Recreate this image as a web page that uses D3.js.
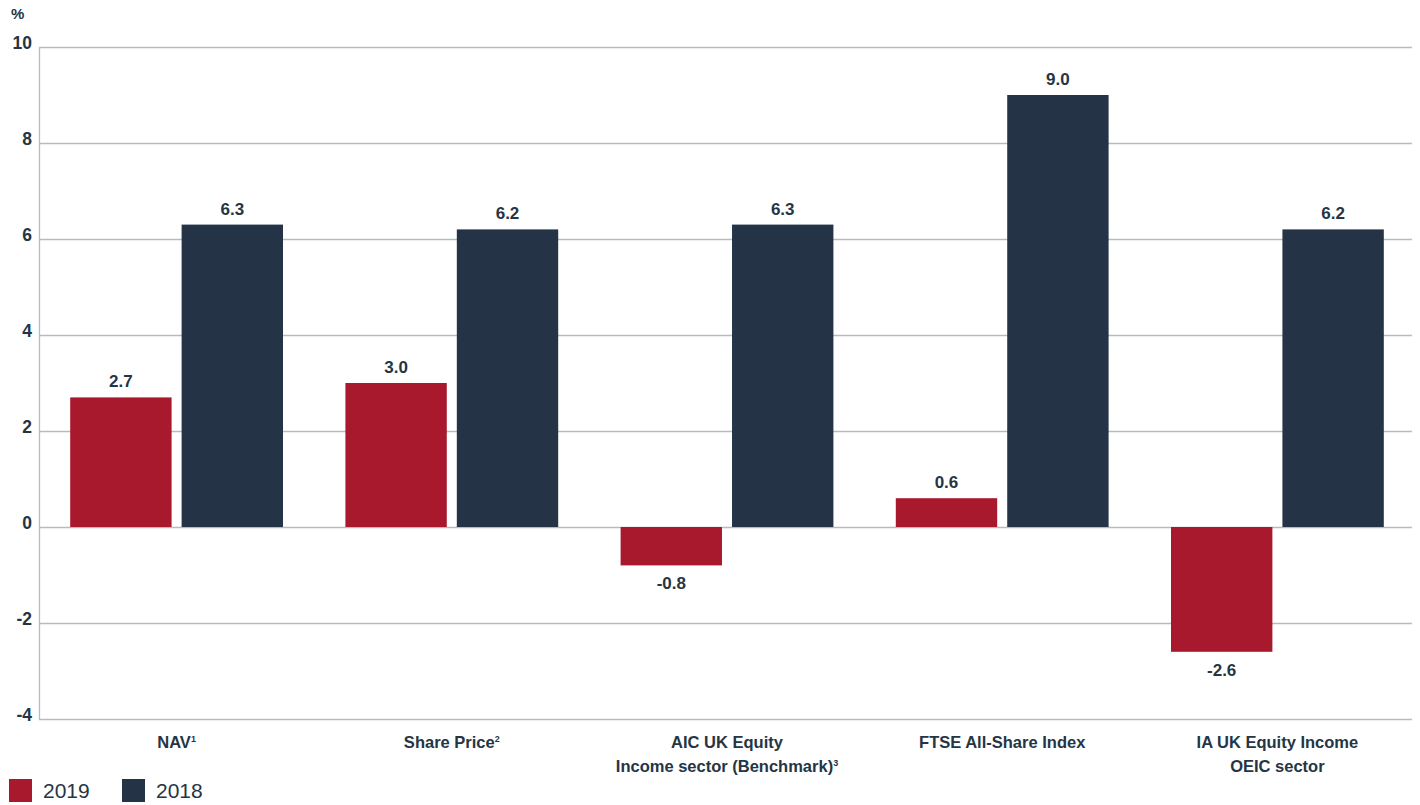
<!DOCTYPE html>
<html>
<head>
<meta charset="utf-8">
<script src="https://cdn.jsdelivr.net/npm/d3@7/dist/d3.min.js"></script>
<style>
  body { margin: 0; background: #fff; }
  svg text { font-family: "Liberation Sans", Arial, sans-serif; fill: #253545; }
</style>
</head>
<body>
<div id="chart"></div>
<script>
var categories = [
  ["NAV", "1"],
  ["Share Price", "2"],
  ["AIC UK Equity", "Income sector (Benchmark)", "3"],
  ["FTSE All-Share Index", ""],
  ["IA UK Equity Income", "OEIC sector", ""]
];
var series = ["2019", "2018"];
var values2019 = [2.7, 3.0, -0.8, 0.6, -2.6];
var values2018 = [6.3, 6.2, 6.3, 9.0, 6.2];
var yTicks = [-4, -2, 0, 2, 4, 6, 8, 10];

var colors = {"2019": "#a8192d", "2018": "#243446"};

var width = 1420, height = 805;
var margin = {top: 47, right: 8, bottom: 86, left: 39};

var svg = d3.select("#chart").append("svg")
    .attr("width", width)
    .attr("height", height);

// groups are spaced a little wider than the gridlines
var x = d3.scaleBand()
    .domain(d3.range(categories.length))
    .range([margin.left, width - 5]);

var xInner = d3.scaleBand()
    .domain(series)
    .range([0, x.bandwidth()])
    .paddingInner(0.09)
    .paddingOuter(0.28);

var y = d3.scaleLinear()
    .domain([-4, 10])
    .range([height - margin.bottom, margin.top]);

// grid lines
svg.append("g")
  .selectAll("line")
  .data(yTicks)
  .enter().append("line")
    .attr("x1", margin.left)
    .attr("x2", width - margin.right)
    .attr("y1", function(d) { return Math.round(y(d)) + 0.5; })
    .attr("y2", function(d) { return Math.round(y(d)) + 0.5; })
    .attr("stroke", "#b7bbc0")
    .attr("stroke-width", 1.3);

svg.append("line")
    .attr("x1", margin.left + 0.5).attr("x2", margin.left + 0.5)
    .attr("y1", y(10)).attr("y2", y(-4))
    .attr("stroke", "#b7bbc0")
    .attr("stroke-width", 1.3);

// tick labels
svg.append("g")
  .selectAll("text")
  .data(yTicks)
  .enter().append("text")
    .attr("x", 32)
    .attr("y", function(d) { return y(d) + 2; })
    .attr("text-anchor", "end")
    .style("font-size", "17.5px")
    .style("font-weight", "bold")
    .text(function(d) { return d; });

svg.append("text")
    .attr("x", 11)
    .attr("y", 19)
    .style("font-size", "15px")
    .style("font-weight", "bold")
    .text("%");

var rows = categories.map(function(c, i) {
  return {i: i, vals: [
    {key: "2019", value: values2019[i]},
    {key: "2018", value: values2018[i]}
  ]};
});

var group = svg.selectAll(".group")
  .data(rows)
  .enter().append("g")
    .attr("class", "group")
    .attr("transform", function(d) { return "translate(" + x(d.i) + ",0)"; });

group.selectAll("rect")
  .data(function(d) { return d.vals; })
  .enter().append("rect")
    .attr("x", function(d) { return xInner(d.key); })
    .attr("width", xInner.bandwidth())
    .attr("y", function(d) { return y(Math.max(0, d.value)); })
    .attr("height", function(d) { return Math.abs(y(d.value) - y(0)); })
    .attr("fill", function(d) { return colors[d.key]; });

group.selectAll(".val")
  .data(function(d) { return d.vals; })
  .enter().append("text")
    .attr("class", "val")
    .attr("x", function(d) { return xInner(d.key) + xInner.bandwidth() / 2; })
    .attr("y", function(d) { return d.value >= 0 ? y(d.value) - 10 : y(d.value) + 24; })
    .attr("text-anchor", "middle")
    .style("font-size", "17px")
    .style("font-weight", "bold")
    .text(function(d) { return d.value.toFixed(1); });

// category labels
group.each(function(d) {
  var c = categories[d.i];
  var lines = c.slice(0, c.length - 1);
  var sup = c[c.length - 1];
  var t = d3.select(this).append("text")
      .attr("text-anchor", "middle")
      .style("font-size", "16.5px")
      .style("font-weight", "bold");
  lines.forEach(function(line, k) {
    var ts = t.append("tspan")
        .attr("x", x.bandwidth() / 2)
        .attr("y", 748 + k * 24)
        .text(line);
    if (k === lines.length - 1 && sup) {
      ts.append("tspan")
          .attr("dy", -6)
          .style("font-size", "9px")
          .text(sup);
    }
  });
});

// legend
var legend = svg.append("g")
  .selectAll("g")
  .data(series)
  .enter().append("g")
    .attr("transform", function(d, i) { return "translate(" + (9 + i * 113) + ",779)"; });

legend.append("rect")
    .attr("width", 23)
    .attr("height", 23)
    .attr("fill", function(d) { return colors[d]; });

legend.append("text")
    .attr("x", 34)
    .attr("y", 19)
    .style("font-size", "21px")
    .style("font-weight", "500")
    .text(function(d) { return d; });
</script>
</body>
</html>
